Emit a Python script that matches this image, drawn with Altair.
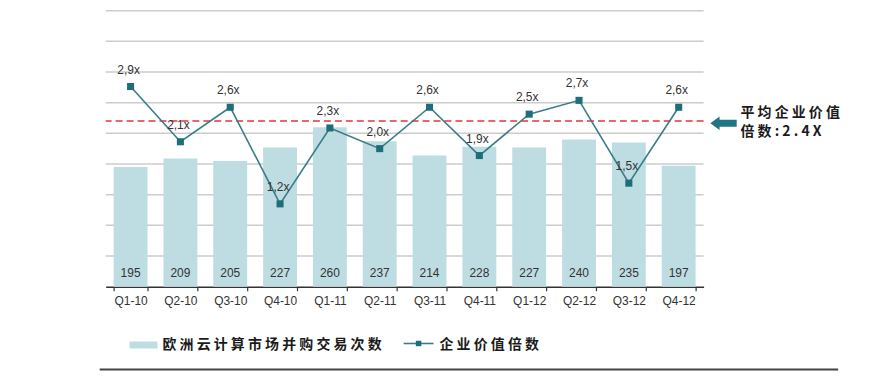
import altair as alt
import pandas as pd

quarters = ["Q1-10", "Q2-10", "Q3-10", "Q4-10", "Q1-11", "Q2-11", "Q3-11", "Q4-11",
            "Q1-12", "Q2-12", "Q3-12", "Q4-12"]
deals = [195, 209, 205, 227, 260, 237, 214, 228, 227, 240, 235, 197]
multiples = [2.9, 2.1, 2.6, 1.2, 2.3, 2.0, 2.6, 1.9, 2.5, 2.7, 1.5, 2.6]
avg_multiple = 2.4
grid_values = [50, 100, 150, 200, 250, 300, 350, 400, 450]

bar_label = "欧洲云计算市场并购交易次数"
line_label = "企业价值倍数"
note_line1 = "平 均 企 业 价 值"
note_line2 = "倍 数 : 2 . 4 X"

BAR_C = "#bedde3"
LINE_C = "#3a7d88"
MARK_C = "#1d6e78"
RED = "#e3343c"
CJK = "Noto Sans CJK SC"

df = pd.DataFrame({
    "q": quarters,
    "deals": deals,
    "mult": multiples,
    "mult_label": [f"{v:.1f}".replace(".", ",") + "x" for v in multiples],
})

xenc = alt.X("q:N", sort=quarters, title=None,
             scale=alt.Scale(paddingInner=0.32, paddingOuter=0.16),
             axis=alt.Axis(labelAngle=0, labelFont="Liberation Sans", labelFontSize=12,
                           labelColor="#333333", labelPadding=5, tickBand="extent",
                           tickSize=4, tickColor="#333333", domain=True, domainColor="#333333",
                           domainWidth=1.5, tickWidth=1.2, grid=False))

ybar = alt.Scale(domain=[0, 450], nice=False)
yline = alt.Scale(domain=[0, 4.0], nice=False)

base = alt.Chart(df)

grid = alt.Chart(pd.DataFrame({"g": grid_values})).mark_rule(
    color="#cccccc", strokeWidth=1.5).encode(
    y=alt.Y("g:Q", scale=ybar, axis=None),
)

bars = base.mark_bar(color=BAR_C).encode(
    x=xenc,
    y=alt.Y("deals:Q", scale=ybar, title=None, axis=None),
)

bar_text = base.mark_text(font="Liberation Sans", fontSize=12, color="#333333",
                          baseline="middle", dy=-14).encode(
    x=alt.X("q:N", sort=quarters),
    y=alt.Y(datum=0, scale=ybar, axis=None),
    text=alt.Text("deals:Q"),
)

rule = alt.Chart(pd.DataFrame({"v": [avg_multiple]})).mark_rule(
    color=RED, strokeDash=[7, 4], strokeWidth=1.6).encode(
    y=alt.Y("v:Q", scale=yline, axis=None),
)

line = base.mark_line(color=LINE_C, strokeWidth=1.6).encode(
    x=alt.X("q:N", sort=quarters),
    y=alt.Y("mult:Q", scale=yline, axis=None),
)

pts = base.mark_point(shape="square", filled=True, size=50, color=MARK_C, opacity=1).encode(
    x=alt.X("q:N", sort=quarters),
    y=alt.Y("mult:Q", scale=yline, axis=None),
)

line_text = base.mark_text(font="Liberation Sans", fontSize=12, color="#333333",
                           baseline="middle", dy=-17, dx=-2).encode(
    x=alt.X("q:N", sort=quarters),
    y=alt.Y("mult:Q", scale=yline, axis=None),
    text="mult_label:N",
)

one = pd.DataFrame({"a": [0]})
c1 = alt.Chart(one)

arrow = c1.mark_point(
    shape="M-1,0 L-0.3,-0.52 L-0.3,-0.27 L1,-0.27 L1,0.27 L-0.3,0.27 L-0.3,0.52 Z",
    filled=True, size=700, color="#1f7680", opacity=1).encode(
    x=alt.value(620), y=alt.value(113))

note1 = c1.mark_text(font=CJK, fontSize=14, fontWeight="bold", color="#1a1a1a",
                     align="left", baseline="middle").encode(
    x=alt.value(637), y=alt.value(103), text=alt.value(note_line1))
note2 = c1.mark_text(font=CJK, fontSize=14, fontWeight="bold", color="#1a1a1a",
                     align="left", baseline="middle").encode(
    x=alt.value(637), y=alt.value(122), text=alt.value(note_line2))

leg_bar = c1.mark_rect(color=BAR_C).encode(
    x=alt.value(24), x2=alt.value(52), y=alt.value(332), y2=alt.value(339))
leg_t1 = c1.mark_text(font=CJK, fontSize=14, fontWeight="bold", color="#1a1a1a",
                      align="left", baseline="middle").encode(
    x=alt.value(57), y=alt.value(336), text=alt.value(" ".join(bar_label)))
leg_line = c1.mark_rule(color=LINE_C, strokeWidth=1.6).encode(
    x=alt.value(299), x2=alt.value(329), y=alt.value(334))
leg_pt = c1.mark_point(shape="square", filled=True, size=30, color=MARK_C, opacity=1).encode(
    x=alt.value(314), y=alt.value(334))
leg_t2 = c1.mark_text(font=CJK, fontSize=14, fontWeight="bold", color="#1a1a1a",
                      align="left", baseline="middle").encode(
    x=alt.value(335), y=alt.value(336), text=alt.value(" ".join(line_label)))

bottom = c1.mark_rule(color="#444444", strokeWidth=2).encode(
    x=alt.value(-6), x2=alt.value(735), y=alt.value(360))

bar_layer = alt.layer(grid, bars, bar_text)
line_layer = alt.layer(rule, line, pts, line_text)
deco = alt.layer(arrow, note1, note2, leg_bar, leg_t1, leg_line, leg_pt, leg_t2, bottom)

chart = alt.layer(bar_layer, line_layer, deco).resolve_scale(y="independent").properties(
    width=600, height=277,
    background="white",
    autosize=alt.AutoSizeParams(type="none"),
    padding={"left": 98, "top": 2, "right": 170, "bottom": 95},
).configure_view(strokeWidth=0, stroke="transparent")

chart.save("out.html", embed_options={"renderer": "svg", "actions": False})
